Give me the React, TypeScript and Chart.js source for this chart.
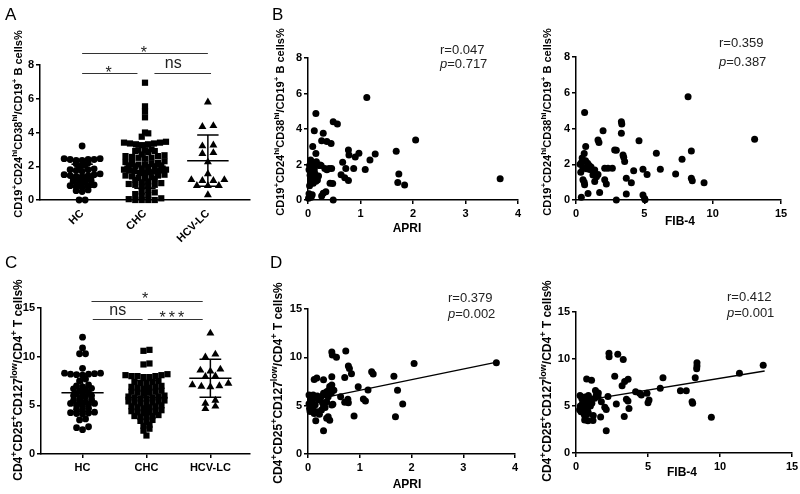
import React, { useEffect, useRef } from 'react';
import { Chart, registerables } from 'chart.js';

Chart.register(...registerables);

const FONT = '"Liberation Sans", Arial, Helvetica, sans-serif';
type Pt = [number, number];

// ---------- shared ----------
const groupNames = ['HC', 'CHC', 'HCV-LC'];

// ---------- Panel A : CD19+CD24hiCD38hi / CD19+ B cells % ----------
const aHC = [3.2, 2.45, 2.45, 2.4, 2.4, 2.4, 2.35, 2.35, 2.2, 2.15, 2.1, 2.05, 1.9, 1.85, 1.8, 1.8, 1.75, 1.7,
  1.55, 1.5, 1.5, 1.45, 1.45, 1.4, 1.4, 1.35, 1.3, 1.2, 1.2, 1.15, 1.1, 1.05, 1.0, 0.9, 0.85, 0.85, 0.8, 0.75,
  0.6, 0.55, 0.5, 0.0, 0.0];
const aCHC = [6.95, 5.55, 5.25, 4.9, 4.0, 3.95, 3.75, 3.45, 3.4, 3.4, 3.35, 3.35, 3.3, 3.3, 3.25, 3.0, 2.95, 2.95,
  2.9, 2.9, 2.85, 2.7, 2.65, 2.6, 2.6, 2.55, 2.5, 2.5, 2.45, 2.3, 2.25, 2.2, 2.2, 2.15, 2.1, 2.1, 2.05, 2.05, 2.0,
  2.0, 1.95, 1.85, 1.8, 1.8, 1.75, 1.75, 1.7, 1.7, 1.65, 1.6, 1.6, 1.5, 1.45, 1.45, 1.4, 1.35, 1.3, 1.3, 1.25, 1.2,
  1.1, 1.05, 1.0, 0.95, 0.9, 0.9, 0.85, 0.8, 0.6, 0.5, 0.45, 0.35, 0.3, 0.25, 0.1, 0.05, 0.0, 0.0, 0.0, 0.0];
const aLC = [5.8, 4.4, 4.35, 3.25, 3.2, 2.8, 2.75, 2.25, 1.55, 1.2, 1.2, 1.15, 1.15, 0.85, 0.85, 0.85, 0.3];
const aMeans = [1.44, 2.0, 2.33];
const aSDs = [0.68, 1.3, 1.52];

// ---------- Panel C : CD4+CD25+CD127low / CD4+ T cells % ----------
const cHC = [12.0, 10.9, 10.3, 10.3, 8.8, 8.3, 8.3, 8.25, 8.2, 8.2, 8.15, 8.1, 7.7, 7.5, 7.1, 7.0, 6.9, 6.75, 6.7,
  6.6, 6.5, 6.3, 6.2, 6.1, 6.0, 6.0, 5.9, 5.7, 5.6, 5.5, 5.35, 5.3, 5.2, 5.2, 5.1, 5.0, 4.9, 4.7, 4.6, 4.5, 4.3,
  4.25, 4.2, 4.15, 4.1, 3.6, 3.5, 2.8, 2.7, 2.5];
const cCHC = [10.7, 10.6, 9.3, 9.2, 8.2, 8.1, 8.1, 8.0, 8.0, 8.0, 7.9, 7.9, 7.5, 7.4, 7.4, 7.3, 7.3, 7.0, 6.9, 6.9,
  6.8, 6.8, 6.7, 6.5, 6.4, 6.4, 6.3, 6.3, 6.2, 6.0, 5.9, 5.9, 5.8, 5.8, 5.7, 5.7, 5.5, 5.4, 5.4, 5.3, 5.3, 5.2, 5.2,
  5.0, 4.9, 4.9, 4.8, 4.8, 4.7, 4.5, 4.4, 4.4, 4.3, 4.3, 4.2, 4.0, 3.9, 3.9, 3.8, 3.8, 3.5, 3.4, 3.3, 3.0, 2.9,
  2.6, 2.4, 1.9];
const cLC = [12.4, 10.25, 9.95, 8.7, 8.6, 8.5, 8.0, 7.95, 7.25, 7.1, 7.0, 6.95, 6.9, 5.5, 5.2, 4.9, 4.65];
const cMeans = [6.3, 5.8, 7.78];
const cSDs = [1.95, 1.75, 1.95];

// ---------- Panel B : B cells % vs APRI / FIB-4 ----------
const bApri: Pt[] = [[1.12, 5.77], [0.15, 4.88], [0.48, 4.41], [0.56, 4.28], [0.12, 3.9], [0.29, 3.76], [0.26, 3.34],
  [0.36, 3.29], [0.44, 3.19], [0.09, 3.02], [2.05, 3.38], [0.15, 2.62], [0.77, 2.82], [0.78, 2.54], [0.97, 2.63],
  [0.9, 2.42], [1.28, 2.59], [1.18, 2.26], [1.68, 2.75], [0.66, 2.12], [0.72, 1.78], [0.87, 1.78], [1.09, 1.72],
  [0.63, 1.42], [0.7, 1.26], [0.77, 1.1], [1.73, 1.46], [1.71, 0.98], [1.84, 0.85], [3.66, 1.2], [0.48, 0.0],
  [0.05, 2.25], [0.08, 2.05], [0.03, 1.95], [0.1, 1.85], [0.02, 1.7], [0.06, 1.55], [0.12, 1.7], [0.04, 1.4],
  [0.09, 1.25], [0.13, 1.5], [0.05, 1.1], [0.1, 0.95], [0.03, 0.8], [0.15, 1.05], [0.02, 0.35], [0.06, 0.15],
  [0.01, 0.1], [0.16, 2.15], [0.2, 1.95], [0.23, 1.97], [0.32, 1.78], [0.45, 1.78], [0.42, 0.94], [0.47, 0.93],
  [0.29, 0.38], [0.34, 0.47], [0.26, 0.22], [0.2, 1.35], [0.18, 1.13], [0.36, 1.7], [0.4, 1.78], [0.25, 1.95],
  [0.08, 0.3]];
const bFib: Pt[] = [[8.2, 5.78], [13.07, 3.4], [0.63, 4.89], [3.32, 4.38], [3.35, 4.25], [1.98, 3.88], [3.32, 3.73],
  [1.61, 3.36], [1.68, 3.22], [4.61, 3.32], [0.71, 3.0], [2.83, 2.8], [2.95, 2.78], [5.88, 2.61], [3.44, 2.52],
  [3.49, 2.39], [8.44, 2.74], [3.56, 2.15], [7.76, 2.28], [0.45, 2.35], [0.4, 2.1], [0.6, 2.6], [0.55, 2.15],
  [0.7, 2.2], [0.85, 2.05], [0.95, 1.95], [0.35, 1.55], [0.5, 1.8], [0.75, 1.75], [1.0, 1.7], [1.1, 1.85],
  [1.25, 1.6], [2.1, 1.77], [2.34, 1.77], [2.66, 1.77], [1.37, 1.68], [1.61, 1.42], [1.24, 1.4], [4.22, 1.64],
  [4.9, 1.72], [6.17, 1.72], [5.2, 1.42], [7.29, 1.46], [3.68, 1.22], [4.05, 0.97], [2.1, 1.13], [2.22, 0.9],
  [8.44, 1.21], [8.51, 1.08], [9.37, 0.97], [0.51, 1.13], [0.63, 0.86], [1.37, 1.03], [0.6, 1.0], [0.88, 0.37],
  [1.73, 0.42], [3.68, 0.34], [2.95, 0.0], [4.9, 0.28], [5.02, 0.09], [5.05, 0.02], [0.39, 0.15], [1.5, 1.3],
  [0.3, 2.0]];
const bApriStats = ['0.047', '0.717'];
const bFibStats = ['0.359', '0.387'];

// ---------- Panel D : T cells % vs APRI / FIB-4 ----------
const dApri: Pt[] = [[3.64, 9.45], [2.05, 9.35], [0.46, 10.55], [0.47, 10.25], [0.55, 10.0], [0.73, 10.65],
  [0.78, 9.1], [0.8, 8.85], [0.84, 8.3], [1.23, 8.5], [1.26, 8.28], [1.66, 8.05], [0.71, 7.92], [0.46, 8.0],
  [0.12, 7.7], [0.17, 7.85], [0.3, 7.68], [0.97, 6.95], [1.16, 6.62], [1.73, 6.6], [0.63, 5.93], [0.77, 5.66],
  [0.78, 5.3], [0.71, 5.35], [1.07, 5.7], [1.11, 5.48], [1.83, 5.17], [1.69, 3.85], [0.89, 3.93], [0.3, 2.4],
  [0.36, 3.69], [0.15, 3.45], [0.42, 3.5], [0.39, 3.86], [0.46, 5.07], [0.02, 6.1], [0.05, 5.7], [0.08, 5.4],
  [0.02, 5.2], [0.1, 4.9], [0.04, 4.4], [0.06, 4.6], [0.12, 4.2], [0.17, 4.38], [0.26, 4.55], [0.22, 4.1],
  [0.3, 4.9], [0.33, 4.8], [0.36, 5.4], [0.1, 6.1], [0.17, 5.93], [0.2, 5.6], [0.25, 5.9], [0.3, 6.28],
  [0.36, 6.45], [0.39, 5.93], [0.42, 6.97], [0.46, 7.14], [0.4, 6.6], [0.33, 6.2], [0.28, 5.3], [0.14, 5.1],
  [0.48, 5.14], [0.5, 6.6], [0.45, 6.3], [0.06, 5.0], [0.03, 4.7], [0.18, 6.0]];
const dFib: Pt[] = [[13.0, 9.33], [11.35, 8.48], [8.4, 9.6], [8.4, 9.26], [8.38, 8.97], [8.28, 8.0], [6.04, 8.01],
  [7.25, 6.63], [7.66, 6.63], [8.06, 5.46], [8.1, 5.28], [9.4, 3.8], [5.85, 6.9], [2.29, 10.6], [2.3, 10.25],
  [2.9, 10.5], [3.28, 9.95], [2.69, 8.17], [3.38, 7.6], [3.62, 7.85], [3.2, 7.15], [0.74, 7.88], [1.08, 7.75],
  [4.14, 6.52], [4.42, 6.35], [4.54, 6.17], [4.93, 6.35], [5.07, 5.64], [5.0, 5.35], [3.5, 5.71], [3.61, 5.53],
  [3.68, 4.73], [2.8, 5.21], [3.35, 3.88], [2.1, 2.38], [1.71, 3.82], [2.0, 4.86], [2.1, 4.64], [1.76, 5.46],
  [1.18, 3.45], [0.83, 3.44], [0.6, 3.51], [1.41, 6.17], [1.53, 6.0], [1.3, 5.82], [2.22, 6.0], [1.35, 6.65],
  [1.55, 6.38], [0.28, 6.13], [0.63, 5.96], [0.86, 6.13], [1.2, 4.0], [0.3, 5.0], [0.4, 4.8], [0.5, 4.6],
  [0.45, 5.3], [0.6, 5.2], [0.7, 4.9], [0.8, 4.5], [0.55, 4.2], [0.35, 4.4], [0.65, 5.6], [0.9, 5.4], [1.0, 5.0],
  [0.75, 4.1], [0.95, 5.8], [0.25, 4.6], [0.5, 5.6], [0.85, 4.3], [1.1, 5.3], [0.4, 5.8], [0.6, 4.0]];
const dApriStats = ['0.379', '0.002'];
const dFibStats = ['0.412', '0.001'];
const dApriFit = [5.5, 1.1, 0.03, 3.65]; // intercept, slope, x from, x to
const dFibFit = [5.45, 0.25, 0.3, 13.1];

// ---------- helpers ----------
const YW = 24;
const tickFont = { family: FONT, size: 11, weight: 'bold' as const };

function layoutFor(W: number, H: number, l: number, t: number, r: number, b: number, xh: number) {
  return { padding: { left: l - YW, top: t, right: W - r, bottom: H - b - xh } };
}

function fixSize(axis: 'x' | 'y', xh = 30) {
  return (s: any) => {
    if (axis === 'x') s.height = xh; else s.width = YW;
    s.paddingLeft = 0; s.paddingRight = 0; s.paddingTop = 0; s.paddingBottom = 0;
  };
}

function linScale(axis: 'x' | 'y', min: number, max: number, step: number) {
  return {
    type: 'linear', min, max,
    ticks: { stepSize: step, color: '#000', font: tickFont, padding: axis === 'y' ? 2 : 3, minRotation: 0, maxRotation: 0, autoSkip: false },
    grid: { display: true, drawOnChartArea: false, drawTicks: true, tickLength: 4, color: '#000', lineWidth: 1.5 },
    border: { display: true, color: '#000', width: 1.5 },
    afterFit: fixSize(axis, 30),
  };
}

function catScale(min: number, max: number, rotate: boolean, tickMarks: boolean, xh: number) {
  return {
    type: 'linear', min, max,
    afterBuildTicks: (s: any) => { s.ticks = groupNames.map((_, i) => ({ value: i + 1 })); },
    ticks: {
      callback: (v: number) => groupNames[Math.round(v) - 1] ?? '',
      color: '#000', font: tickFont, autoSkip: false,
      minRotation: rotate ? 45 : 0, maxRotation: rotate ? 45 : 0, padding: 3,
    },
    grid: { display: tickMarks, drawOnChartArea: false, drawTicks: true, tickLength: 4, color: '#000', lineWidth: 1.5 },
    border: { display: true, color: '#000', width: 1.5 },
    afterFit: fixSize('x', xh),
  };
}

function swarm(values: number[], center: number, rowH: number, stepPx: number, halfPx: number, pxPerCat: number) {
  const sorted = [...values].sort((a, b) => a - b);
  const rows: number[][] = [];
  for (const v of sorted) {
    const r = rows[rows.length - 1];
    if (r && v - r[0] < rowH - 1e-9) r.push(v); else rows.push([v]);
  }
  const pts: { x: number; y: number }[] = [];
  for (const r of rows) {
    const n = r.length;
    const step = n > 1 ? Math.min(stepPx, (2 * halfPx) / (n - 1)) : 0;
    const slots = Array.from({ length: n }, (_, k) => k - (n - 1) / 2)
      .sort((a, b) => Math.abs(a) - Math.abs(b) || a - b);
    r.forEach((v, i) => pts.push({ x: center + (slots[i] * step) / pxPerCat, y: v }));
  }
  return pts;
}

function errBar(c: number, m: number, sd: number, hm: number, hc: number) {
  return [
    { x: c - hm, y: m }, { x: c + hm, y: m }, { x: c, y: null },
    { x: c, y: m - sd }, { x: c, y: m + sd }, { x: c, y: null },
    { x: c - hc, y: m + sd }, { x: c + hc, y: m + sd }, { x: c, y: null },
    { x: c - hc, y: m - sd }, { x: c + hc, y: m - sd },
  ];
}

function richSegments(s: string) {
  const out: { t: string; sup: boolean }[] = [];
  const re = /\^\{([^}]*)\}/g;
  let last = 0;
  let m: RegExpExecArray | null;
  while ((m = re.exec(s))) {
    if (m.index > last) out.push({ t: s.slice(last, m.index), sup: false });
    out.push({ t: m[1], sup: true });
    last = re.lastIndex;
  }
  if (last < s.length) out.push({ t: s.slice(last), sup: false });
  return out;
}

function drawRotatedRich(ctx: CanvasRenderingContext2D, s: string, cx: number, cy: number, size: number) {
  const segs = richSegments(s);
  const fMain = `bold ${size}px ${FONT}`;
  const fSup = `bold ${Math.round(size * 0.72)}px ${FONT}`;
  let total = 0;
  const widths = segs.map((g) => {
    ctx.font = g.sup ? fSup : fMain;
    const w = ctx.measureText(g.t).width;
    total += w;
    return w;
  });
  ctx.save();
  ctx.translate(cx, cy);
  ctx.rotate(-Math.PI / 2);
  ctx.textAlign = 'left';
  ctx.textBaseline = 'alphabetic';
  ctx.fillStyle = '#000';
  let x = -total / 2;
  segs.forEach((g, i) => {
    ctx.font = g.sup ? fSup : fMain;
    ctx.fillText(g.t, x, g.sup ? size * 0.35 - size * 0.45 : size * 0.35);
    x += widths[i];
  });
  ctx.restore();
}

type Bracket = { x1: number; x2: number; y: number; label: string; lx: number; dy: number; ls?: number };
type Overlay = {
  letter?: [string, number, number];
  yTitle: [string, number, number, number];
  xTitle?: [string, number, number];
  stats?: { r: string; p: string; x: number; yr: number; yp: number };
  brackets?: Bracket[];
};

function overlayPlugin(o: Overlay) {
  return {
    id: 'overlay',
    afterDraw(chart: any) {
      const ctx: CanvasRenderingContext2D = chart.ctx;
      const xs = chart.scales.x;
      const ys = chart.scales.y;
      ctx.save();
      ctx.fillStyle = '#000';
      if (o.letter) {
        ctx.font = `17px ${FONT}`;
        ctx.textAlign = 'left';
        ctx.textBaseline = 'alphabetic';
        ctx.fillText(o.letter[0], o.letter[1], o.letter[2]);
      }
      drawRotatedRich(ctx, o.yTitle[0], o.yTitle[1], o.yTitle[2], o.yTitle[3]);
      if (o.xTitle) {
        ctx.font = `bold 12px ${FONT}`;
        ctx.textAlign = 'center';
        ctx.textBaseline = 'middle';
        ctx.fillText(o.xTitle[0], o.xTitle[1], o.xTitle[2]);
      }
      if (o.stats) {
        ctx.fillStyle = '#222';
        ctx.textAlign = 'left';
        ctx.textBaseline = 'middle';
        ctx.font = `13px ${FONT}`;
        ctx.fillText('r=' + o.stats.r, o.stats.x, o.stats.yr);
        ctx.font = `italic 13px ${FONT}`;
        ctx.fillText('p', o.stats.x, o.stats.yp);
        const w = ctx.measureText('p').width;
        ctx.font = `13px ${FONT}`;
        ctx.fillText('=' + o.stats.p, o.stats.x + w, o.stats.yp);
      }
      if (o.brackets) {
        for (const b of o.brackets) {
          const y = Math.round(ys.getPixelForValue(b.y)) + 0.5;
          ctx.strokeStyle = '#333';
          ctx.lineWidth = 1.2;
          ctx.beginPath();
          ctx.moveTo(xs.getPixelForValue(b.x1), y);
          ctx.lineTo(xs.getPixelForValue(b.x2), y);
          ctx.stroke();
          ctx.fillStyle = '#222';
          ctx.font = `16px ${FONT}`;
          ctx.textAlign = 'center';
          ctx.textBaseline = 'alphabetic';
          (ctx as any).letterSpacing = `${b.ls ?? 0}px`;
          ctx.fillText(b.label, xs.getPixelForValue(b.lx), y + b.dy);
          (ctx as any).letterSpacing = '0px';
        }
      }
      ctx.restore();
    },
  };
}

const baseOpts = (layout: any, scales: any) => ({
  responsive: false,
  animation: false,
  devicePixelRatio: 1,
  events: [],
  layout,
  scales,
  plugins: { legend: { display: false }, tooltip: { enabled: false } },
});

function dotPlot(p: any) {
  const [l, t, r, b] = p.area;
  const pxPerCat = (r - l) / (p.xMax - p.xMin);
  const styles = ['circle', 'rect', 'triangle'];
  const radii = [3.4, 4.4, 4.6];
  const bars = p.groups.map((_: any, i: number) => ({
    type: 'scatter',
    data: errBar(i + 1, p.means[i], p.sds[i], 0.33, 0.17),
    showLine: true, borderColor: '#000', borderWidth: 1.5, pointRadius: 0, spanGaps: false, clip: false,
  }));
  const pts = p.groups.map((vals: number[], i: number) => ({
    type: 'scatter',
    data: swarm(vals, i + 1, p.rowH[i], p.stepPx[i], p.halfPx[i], pxPerCat),
    pointStyle: styles[i], pointRadius: radii[i], backgroundColor: '#000', borderWidth: 0,
    showLine: false, clip: false,
  }));
  return {
    type: 'scatter',
    data: { datasets: [...bars, ...pts] },
    options: baseOpts(layoutFor(p.W, p.H, l, t, r, b, p.xh), {
      x: catScale(p.xMin, p.xMax, p.rotate, p.tickMarks, p.xh),
      y: linScale('y', p.yMin, p.yMax, p.yStep),
    }),
    plugins: [overlayPlugin(p.overlay)],
  };
}

function corrPlot(p: any) {
  const [l, t, r, b] = p.area;
  const ds: any[] = [];
  if (p.fit) {
    const [a, k, x0, x1] = p.fit;
    ds.push({
      type: 'scatter', data: [{ x: x0, y: a + k * x0 }, { x: x1, y: a + k * x1 }],
      showLine: true, borderColor: '#000', borderWidth: 1.3, pointRadius: 0, clip: false,
    });
  }
  ds.push({
    type: 'scatter', data: p.pts.map(([x, y]: Pt) => ({ x, y })),
    pointStyle: 'circle', pointRadius: 3.5, backgroundColor: '#000', borderWidth: 0, clip: false,
  });
  return {
    type: 'scatter',
    data: { datasets: ds },
    options: baseOpts(layoutFor(p.W, p.H, l, t, r, b, 30), {
      x: linScale('x', p.xMin, p.xMax, p.xStep),
      y: linScale('y', p.yMin, p.yMax, p.yStep),
    }),
    plugins: [overlayPlugin(p.overlay)],
  };
}

const TITLE_B = 'CD19^{+}CD24^{hi}CD38^{hi}/CD19^{+} B cells%';
const TITLE_T = 'CD4^{+}CD25^{+}CD127^{low}/CD4^{+} T cells%';

const panels = [
  { left: 0, top: 0, w: 260, h: 250 },
  { left: 260, top: 0, w: 270, h: 250 },
  { left: 530, top: 0, w: 270, h: 250 },
  { left: 0, top: 250, w: 260, h: 244 },
  { left: 260, top: 250, w: 270, h: 244 },
  { left: 530, top: 250, w: 270, h: 244 },
];

function buildConfigs() {
  return [
    dotPlot({
      W: 260, H: 250, area: [40, 65, 250, 200], xh: 48, xMin: 0.33, xMax: 3.67, rotate: true, tickMarks: false,
      yMin: 0, yMax: 8, yStep: 2, groups: [aHC, aCHC, aLC], means: aMeans, sds: aSDs,
      rowH: [0.2, 0.25, 0.2], stepPx: [6, 6.5, 11], halfPx: [19, 21, 18],
      overlay: {
        letter: ['A', 5, 20], yTitle: [TITLE_B, 18, 124, 11],
        brackets: [
          { x1: 1.0, x2: 1.88, y: 7.5, label: '*', lx: 1.42, dy: 4 },
          { x1: 2.15, x2: 3.05, y: 7.5, label: 'ns', lx: 2.45, dy: -6 },
          { x1: 1.0, x2: 3.0, y: 8.7, label: '*', lx: 1.98, dy: 4 },
        ],
      },
    }),
    corrPlot({
      W: 270, H: 250, area: [48, 58, 258, 200], xMin: 0, xMax: 4, xStep: 1, yMin: 0, yMax: 8, yStep: 2,
      pts: bApri,
      overlay: {
        letter: ['B', 12, 20], yTitle: [TITLE_B, 20, 122, 11], xTitle: ['APRI', 147, 229],
        stats: { r: bApriStats[0], p: bApriStats[1], x: 180, yr: 50, yp: 64 },
      },
    }),
    corrPlot({
      W: 270, H: 250, area: [46, 57, 251, 200], xMin: 0, xMax: 15, xStep: 5, yMin: 0, yMax: 8, yStep: 2,
      pts: bFib,
      overlay: {
        yTitle: [TITLE_B, 17, 122, 11], xTitle: ['FIB-4', 150, 222],
        stats: { r: bFibStats[0], p: bFibStats[1], x: 189, yr: 43, yp: 62 },
      },
    }),
    dotPlot({
      W: 260, H: 244, area: [41, 58, 250, 204], xh: 30, xMin: 0.35, xMax: 3.62, rotate: false, tickMarks: true,
      yMin: 0, yMax: 15, yStep: 5, groups: [cHC, cCHC, cLC], means: cMeans, sds: cSDs,
      rowH: [0.35, 0.35, 0.4], stepPx: [6, 6, 10], halfPx: [20, 22, 18],
      overlay: {
        letter: ['C', 5, 18], yTitle: [TITLE_T, 18, 130, 12],
        brackets: [
          { x1: 1.14, x2: 2.88, y: 15.75, label: '*', lx: 1.98, dy: 2 },
          { x1: 1.16, x2: 1.94, y: 13.9, label: 'ns', lx: 1.55, dy: -5 },
          { x1: 2.02, x2: 2.88, y: 13.85, label: '***', lx: 2.42, dy: 3, ls: 3 },
        ],
      },
    }),
    corrPlot({
      W: 270, H: 244, area: [48, 59, 255, 204], xMin: 0, xMax: 4, xStep: 1, yMin: 0, yMax: 15, yStep: 5,
      pts: dApri, fit: dApriFit,
      overlay: {
        letter: ['D', 10, 18], yTitle: [TITLE_T, 18, 133, 12], xTitle: ['APRI', 147, 235],
        stats: { r: dApriStats[0], p: dApriStats[1], x: 188, yr: 48, yp: 64 },
      },
    }),
    corrPlot({
      W: 270, H: 244, area: [46, 62, 262, 203], xMin: 0, xMax: 15, xStep: 5, yMin: 0, yMax: 15, yStep: 5,
      pts: dFib, fit: dFibFit,
      overlay: {
        yTitle: [TITLE_T, 17, 131, 12], xTitle: ['FIB-4', 152, 223],
        stats: { r: dFibStats[0], p: dFibStats[1], x: 197, yr: 47, yp: 63 },
      },
    }),
  ];
}

export default function App() {
  const refs = useRef<(HTMLCanvasElement | null)[]>([]);
  useEffect(() => {
    const cfgs = buildConfigs();
    const charts = cfgs.map((cfg, i) => new Chart(refs.current[i] as HTMLCanvasElement, cfg as any));
    return () => charts.forEach((c) => c.destroy());
  }, []);
  return (
    <div style={{ position: 'absolute', left: 0, top: 0, width: 800, height: 494, background: '#fff' }}>
      {panels.map((p, i) => (
        <canvas
          key={i}
          ref={(el) => { refs.current[i] = el; }}
          width={p.w}
          height={p.h}
          style={{ position: 'absolute', left: p.left, top: p.top, width: p.w, height: p.h }}
        />
      ))}
    </div>
  );
}
